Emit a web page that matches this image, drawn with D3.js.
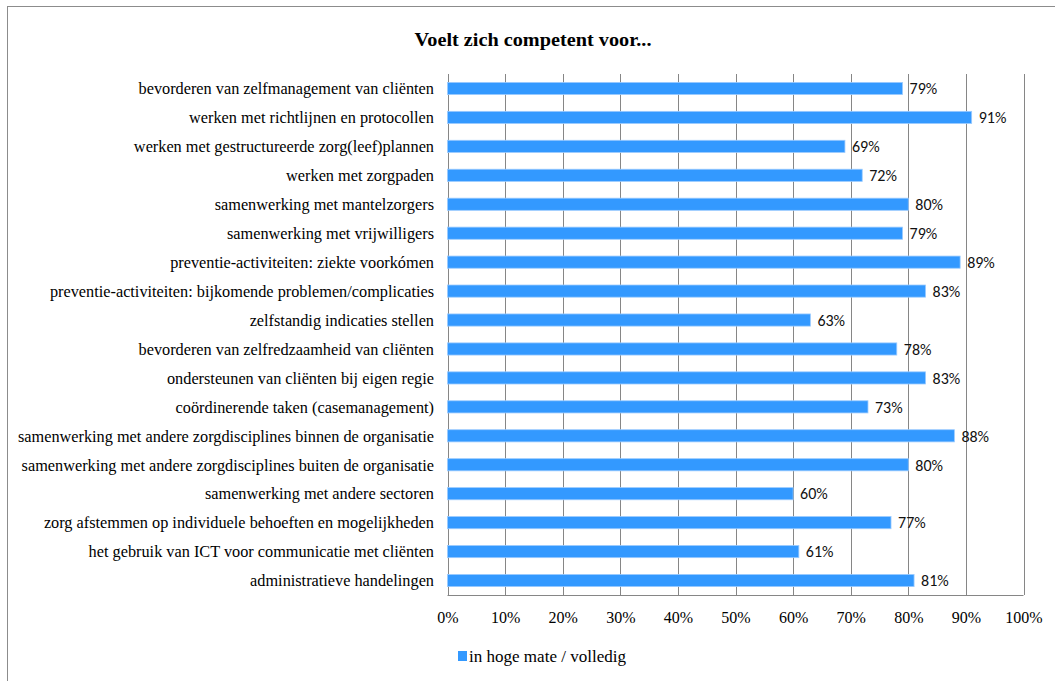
<!DOCTYPE html>
<html>
<head>
<meta charset="utf-8">
<script src="https://cdn.jsdelivr.net/npm/d3@7"></script>
<style>
  html, body { margin: 0; padding: 0; background: #fff; }
  svg { display: block; }
</style>
</head>
<body>
<svg id="chart" width="1055" height="681"></svg>
<script>
const title = "Voelt zich competent voor...";
const categories = [
  "bevorderen van zelfmanagement van cliënten",
  "werken met richtlijnen en protocollen",
  "werken met gestructureerde zorg(leef)plannen",
  "werken met zorgpaden",
  "samenwerking met mantelzorgers",
  "samenwerking met vrijwilligers",
  "preventie-activiteiten: ziekte voorkómen",
  "preventie-activiteiten: bijkomende problemen/complicaties",
  "zelfstandig indicaties stellen",
  "bevorderen van zelfredzaamheid van cliënten",
  "ondersteunen van cliënten bij eigen regie",
  "coördinerende taken (casemanagement)",
  "samenwerking met andere zorgdisciplines binnen de organisatie",
  "samenwerking met andere zorgdisciplines buiten de organisatie",
  "samenwerking met andere sectoren",
  "zorg afstemmen op individuele behoeften en mogelijkheden",
  "het gebruik van ICT voor communicatie met cliënten",
  "administratieve handelingen"
];
const values = [0.79, 0.91, 0.69, 0.72, 0.80, 0.79, 0.89, 0.83, 0.63, 0.78, 0.83, 0.73, 0.88, 0.80, 0.60, 0.77, 0.61, 0.81];
const tickValues = [0, 0.1, 0.2, 0.3, 0.4, 0.5, 0.6, 0.7, 0.8, 0.9, 1.0];
const seriesName = "in hoge mate / volledig";

const svg = d3.select("#chart");
const serif = '"Liberation Serif", "Times New Roman", Tinos';
const sans = 'Carlito, Calibri, "Liberation Sans"';
const barColor = "#3399ff";
const gridColor = "#868686";

// outer chart border (extends past right/bottom edge as in reference)
svg.append("rect")
  .attr("x", 7.5).attr("y", 6.5)
  .attr("width", 1100).attr("height", 700)
  .attr("fill", "#fff").attr("stroke", "#8c8c8c").attr("stroke-width", 1);

const plot = { left: 447.5, right: 1023.5, top: 74, bottom: 595 };

const x = d3.scaleLinear().domain([0, 1]).range([plot.left, plot.right]);
const y = d3.scaleBand().domain(categories).range([plot.top, plot.bottom])
  .paddingInner(0.58).paddingOuter(0.29);

// title
svg.append("text")
  .attr("x", 533).attr("y", 46)
  .attr("text-anchor", "middle")
  .style("font-family", serif).style("font-weight", "bold").style("font-size", "19px")
  .attr("fill", "#000")
  .attr("textLength", 237).attr("lengthAdjust", "spacingAndGlyphs")
  .text(title);

// gridlines
svg.append("g").selectAll("line").data(tickValues).join("line")
  .attr("x1", d => Math.round(x(d)) + 0.5).attr("x2", d => Math.round(x(d)) + 0.5)
  .attr("y1", plot.top).attr("y2", plot.bottom)
  .attr("stroke", gridColor).attr("stroke-width", 1);

// bottom axis line
svg.append("line")
  .attr("x1", plot.left).attr("x2", plot.right)
  .attr("y1", plot.bottom + 0.5).attr("y2", plot.bottom + 0.5)
  .attr("stroke", gridColor);

// x axis tick labels via d3 axis
const xAxis = d3.axisBottom(x).tickValues(tickValues).tickFormat(d3.format(".0%")).tickSize(0).tickPadding(0);
const gx = svg.append("g").attr("transform", `translate(0, 612)`).call(xAxis);
gx.select(".domain").remove();
gx.selectAll("text")
  .style("font-family", serif).style("font-size", "16px").attr("fill", "#000")
  .attr("dy", "0.71em");

// bars
svg.append("g").selectAll("rect").data(values).join("rect")
  .attr("x", x(0))
  .attr("y", (d, i) => y(categories[i]))
  .attr("width", d => x(d) - x(0))
  .attr("height", y.bandwidth())
  .attr("fill", barColor)
  .attr("stroke", "#9bcbff").attr("stroke-width", 0.8);

// value labels
svg.append("g").selectAll("text").data(values).join("text")
  .attr("x", d => x(d) + 7)
  .attr("y", (d, i) => y(categories[i]) + y.bandwidth() / 2)
  .attr("dy", "0.36em")
  .style("font-family", sans).style("font-size", "16px").attr("fill", "#111")
  .text(d => d3.format(".0%")(d));

// category labels (right aligned)
const labels = svg.append("g").selectAll("text").data(categories).join("text")
  .attr("x", 434)
  .attr("y", d => y(d) + y.bandwidth() / 2)
  .attr("dy", "0.36em")
  .attr("text-anchor", "end")
  .style("font-family", serif).style("font-size", "16px").attr("fill", "#000")
  .text(d => d);
// scale so the longest label spans 416px, as in reference
let maxW = 0;
labels.each(function() { maxW = Math.max(maxW, this.getComputedTextLength()); });
const k = 416 / maxW;
labels.each(function() {
  const w = this.getComputedTextLength();
  d3.select(this).attr("textLength", w * k).attr("lengthAdjust", "spacingAndGlyphs");
});

// legend
svg.append("rect").attr("x", 458).attr("y", 651).attr("width", 9).attr("height", 10).attr("fill", barColor);
svg.append("text").attr("x", 469).attr("y", 662)
  .style("font-family", serif).style("font-size", "16px").attr("fill", "#000")
  .attr("textLength", 157).attr("lengthAdjust", "spacingAndGlyphs")
  .text(seriesName);
</script>
</body>
</html>
